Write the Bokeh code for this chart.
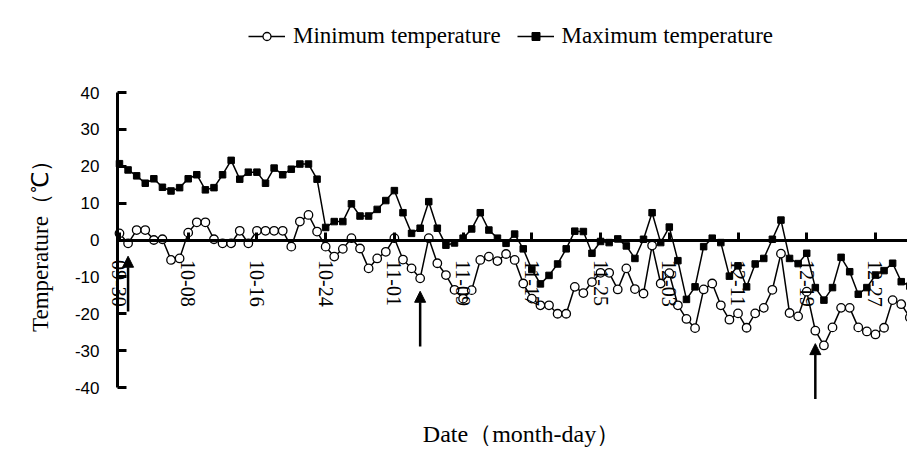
import math
from bokeh.plotting import figure
from bokeh.models import (Range1d, FixedTicker, LinearAxis, Legend, LegendItem,
                          Arrow, NormalHead, ColumnDataSource, Label)
from bokeh.embed import file_html
from bokeh.resources import INLINE

# ---- data ----
days = list(range(93))
max_temp = [20.7, 19.0, 17.4, 15.4, 16.6, 14.3, 13.3, 14.2, 16.6, 17.7,
            13.6, 14.2, 17.7, 21.6, 16.5, 18.4, 18.4, 15.4, 19.5, 17.7,
            19.2, 20.6, 20.6, 16.5, 3.4, 5.0, 5.0, 9.8, 6.5, 6.5,
            8.3, 10.7, 13.4, 7.4, 1.8, 3.2, 10.4, 3.2, -1.4, -0.8,
            0.5, 3.0, 7.4, 2.7, 0.5, -0.9, 1.6, -2.4, -8.0, -11.9,
            -9.6, -6.5, -2.4, 2.4, 2.3, -3.6, -0.4, -0.7, 0.3, -1.6,
            -5.0, 0.2, 7.4, -0.7, 3.5, -5.6, -16.1, -12.7, -1.8, 0.5,
            -0.7, -9.8, -7.0, -12.7, -6.5, -5.0, 0.2, 5.4, -5.0, -6.4,
            -3.6, -12.9, -16.3, -12.9, -4.7, -8.6, -14.7, -12.9, -9.5, -8.3,
            -6.3, -11.3, -12.5]
min_temp = [1.8, -0.9, 2.7, 2.7, 0.0, 0.2, -5.4, -5.0, 2.0, 4.8,
            4.8, 0.2, -0.9, -0.9, 2.5, -0.9, 2.5, 2.5, 2.5, 2.5,
            -1.8, 5.0, 6.8, 2.3, -1.8, -4.5, -2.4, 0.5, -2.3, -7.7,
            -5.0, -3.2, 0.5, -5.3, -7.7, -10.4, 0.5, -6.3, -9.5, -13.5,
            -15.9, -13.6, -5.4, -4.5, -5.7, -3.8, -5.4, -11.8, -15.9, -17.7,
            -17.7, -20.0, -20.0, -12.7, -14.4, -11.4, -8.9, -8.9, -13.4, -7.7,
            -13.3, -14.5, -1.5, -11.8, -9.0, -17.7, -21.4, -23.9, -13.4, -11.8,
            -17.7, -21.6, -19.9, -23.8, -19.9, -18.4, -13.5, -3.7, -19.8, -20.7,
            -14.0, -24.6, -28.6, -23.7, -18.4, -18.4, -23.7, -24.8, -25.6, -23.8,
            -16.3, -17.4, -21.0]
tick_days = [0, 8, 16, 24, 32, 40, 48, 56, 64, 72, 80, 88]
tick_labels = ["09-30", "10-08", "10-16", "10-24", "11-01", "11-09",
               "11-17", "11-25", "12-03", "12-11", "12-19", "12-27"]
y_ticks = [-40, -30, -20, -10, 0, 10, 20, 30, 40]
arrow_days = [1, 35, 81]

SERIF = "Liberation Serif"
SANS = "Liberation Sans"

W, H = 907, 449
X0, X1 = -0.23, 91.73          # data x span of the drawing area (axis at X0)
Y0, Y1 = -40, 40

# the frame covers the whole canvas; axes are placed at fixed data locations
p = figure(width=W, height=H, output_backend="svg", toolbar_location=None,
           x_axis_location=None, y_axis_location=None,
           x_range=Range1d(-13.85, X1), y_range=Range1d(-56.81, 64.95),
           min_border=0, min_border_left=0, min_border_right=0,
           min_border_top=0, min_border_bottom=0)
p.outline_line_color = None
p.xgrid.visible = False
p.ygrid.visible = False

# y axis
yax = LinearAxis(ticker=FixedTicker(ticks=y_ticks), bounds=(Y0, Y1),
                 fixed_location=X0,
                 major_label_overrides={v: str(v) for v in y_ticks})
yax.axis_line_width = 3
yax.major_tick_in = 9
yax.major_tick_out = 0
yax.major_tick_line_width = 3
yax.minor_tick_line_color = None
yax.major_label_text_font = SANS
yax.major_label_text_font_size = "17px"
yax.major_label_text_color = "black"
yax.major_label_standoff = 18
p.add_layout(yax, "left")

# x axis on the zero line
xax = LinearAxis(ticker=FixedTicker(ticks=tick_days), bounds=(X0, X1),
                 major_label_overrides=dict(zip(tick_days, tick_labels)),
                 fixed_location=0)
xax.axis_line_width = 3
xax.major_tick_in = 8
xax.major_tick_out = 0
xax.major_tick_line_width = 3
xax.minor_tick_line_color = None
xax.major_label_orientation = "vertical"
xax.major_label_text_font = SERIF
xax.major_label_text_font_size = "20px"
xax.major_label_text_color = "black"
xax.major_label_standoff = 20
p.add_layout(xax, "below")

# axis titles
p.add_layout(Label(x=40, y=H - 240, x_units="screen", y_units="screen",
                   text="Temperature（℃）", angle=math.pi / 2,
                   text_align="center", text_baseline="middle",
                   text_font=SERIF, text_font_size="23px", text_color="black"))
p.add_layout(Label(x=521, y=H - 433, x_units="screen", y_units="screen",
                   text="Date（month-day）",
                   text_align="center", text_baseline="middle",
                   text_font=SERIF, text_font_size="24px", text_color="black"))

src = ColumnDataSource(dict(day=days, tmin=min_temp, tmax=max_temp))

l_max = p.line("day", "tmax", source=src, line_color="black", line_width=1.5)
s_max = p.scatter("day", "tmax", source=src, marker="square", size=6.5,
                  fill_color="black", line_color="black")
l_min = p.line("day", "tmin", source=src, line_color="black", line_width=1.5)
s_min = p.scatter("day", "tmin", source=src, marker="circle", size=8.5,
                  fill_color="white", line_color="black", line_width=1.3)

# arrows pointing at selected minimum points
tip = [min_temp[d] - 3.5 for d in arrow_days]
tail = [t - 15 for t in tip]
asrc = ColumnDataSource(dict(x=arrow_days, y0=tail, y1=tip))
p.add_layout(Arrow(end=NormalHead(size=11, fill_color="black", line_color="black"),
                   x_start="x", y_start="y0", x_end="x", y_end="y1",
                   source=asrc, line_width=2.5, line_color="black"))

legend = Legend(items=[LegendItem(label="Minimum temperature", renderers=[l_min, s_min]),
                       LegendItem(label="Maximum temperature", renderers=[l_max, s_max])],
                orientation="horizontal", location=(248, 400))
legend.label_text_font = SERIF
legend.label_text_font_size = "23px"
legend.label_text_color = "black"
legend.glyph_width = 37
legend.glyph_height = 20
legend.label_standoff = 8
legend.spacing = 16
legend.padding = 0
legend.margin = 0
legend.border_line_color = None
legend.background_fill_alpha = 0
p.add_layout(legend, "center")

open("out.html", "w").write(file_html(p, INLINE))
